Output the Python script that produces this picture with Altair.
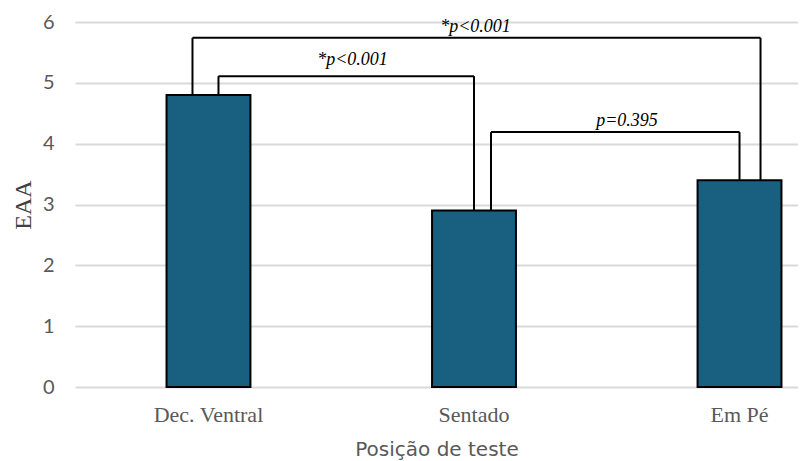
import altair as alt
import pandas as pd

categories = ["Dec. Ventral", "Sentado", "Em Pé"]
values = [4.8, 2.9, 3.4]

bracket_from = ["Dec. Ventral", "Dec. Ventral", "Sentado"]
bracket_to = ["Sentado", "Em Pé", "Em Pé"]
bracket_height = [5.11, 5.74, 4.19]
bracket_label = ["*p<0.001", "*p<0.001", "p=0.395"]

# pixel offsets of bracket legs from band centres and label shift (style)
leg_offsets = [(10, 0), (-16, 21), (17, 0)]
label_shift = [(144, -11), (267, -6), (153, -6)]

val_of = dict(zip(categories, values))
bars_df = pd.DataFrame({"cat": categories, "val": values})

xscale = alt.Scale(domain=categories, paddingInner=0.684, paddingOuter=0.2035, align=0.847)
yscale = alt.Scale(domain=[0, 6])
XT = "Posição de teste"
YT = "EAA"


def X(field):
    return alt.X(field, type="nominal", scale=xscale, title=XT)


def Y(field):
    return alt.Y(field, type="quantitative", scale=yscale, title=YT)


bars = alt.Chart(bars_df).mark_bar(
    color="#185f80", stroke="black", strokeWidth=2
).encode(x=X("cat"), y=Y("val"))

layers = [bars]
for i in range(3):
    df = pd.DataFrame({
        "from": [bracket_from[i]],
        "to": [bracket_to[i]],
        "yf": [val_of[bracket_from[i]]],
        "yt": [val_of[bracket_to[i]]],
        "h": [bracket_height[i]],
        "label": [bracket_label[i]],
    })
    a, b = leg_offsets[i]
    lx, ldy = label_shift[i]
    base = alt.Chart(df)
    left = base.mark_rule(color="black", strokeWidth=2, xOffset=a).encode(
        x=X("from"), y=Y("yf"), y2="h")
    right = base.mark_rule(color="black", strokeWidth=2, xOffset=b).encode(
        x=X("to"), y=Y("yt"), y2="h")
    top = base.mark_rule(color="black", strokeWidth=2, xOffset=a, x2Offset=b).encode(
        x=X("from"), x2="to", y=Y("h"))
    txt = base.mark_text(
        font="Liberation Serif", fontStyle="italic", fontSize=18, color="black",
        xOffset=lx, dy=ldy, baseline="alphabetic", align="center"
    ).encode(x=X("from"), y=Y("h"), text="label")
    layers += [left, right, top, txt]

chart = alt.layer(*layers).properties(
    width=723, height=365,
    padding={"left": 67, "top": 14, "right": 0, "bottom": 74},
    autosize=alt.AutoSizeParams(type="none"),
).configure_view(stroke=None).configure_axisX(
    domain=False, ticks=False, grid=False,
    labelFont="Liberation Serif", labelFontSize=22, labelColor="#595959", labelPadding=17,
    labelAngle=0,
    titleFont="DejaVu Sans", titleFontSize=20, titleFontWeight="normal", titleColor="#595959",
    titlePadding=14,
).configure_axisY(
    domain=False, ticks=False, grid=True, gridColor="#d9d9d9", gridWidth=2,
    tickCount=6, values=[0, 1, 2, 3, 4, 5, 6],
    labelFont="Lato", labelFontSize=20, labelColor="#595959", labelPadding=21,
    titleFont="Liberation Serif", titleFontSize=24, titleFontWeight="normal", titleColor="#404040",
    titlePadding=7,
)

chart.save("out.html", embed_options={"renderer": "svg", "actions": False})
